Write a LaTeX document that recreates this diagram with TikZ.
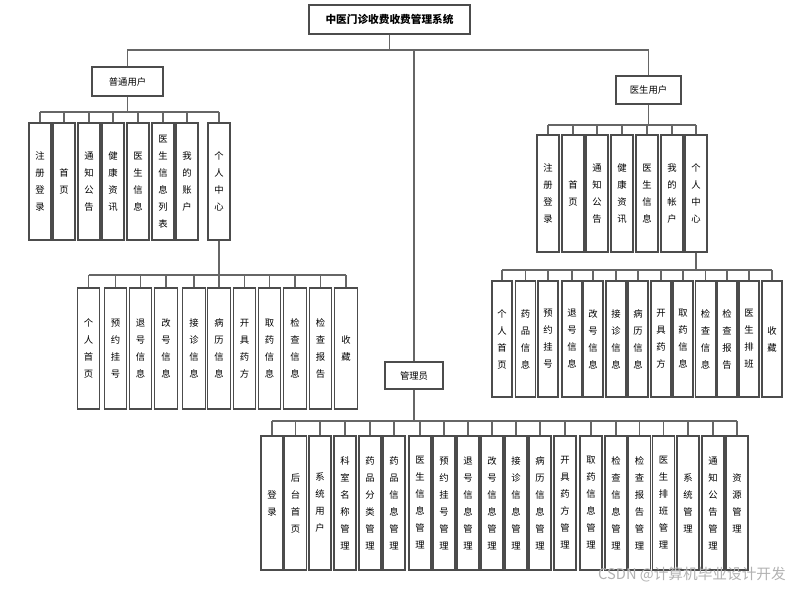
\documentclass[tikz,border=0pt]{standalone}
\usepackage{fontspec}
\setmainfont{Noto Sans CJK SC}

\begin{document}
\begin{tikzpicture}[
  x=0.75pt, y=-0.75pt,
  every node/.style={draw=black!70, line width=0.8pt, align=center,
                     inner sep=0pt, font=\fontsize{7}{12.75}\selectfont},
  link/.style={draw=black!60, line width=0.8pt},
  rootbox/.style={minimum width=120.75pt, minimum height=21.75pt,
                  font=\bfseries\fontsize{8}{10}\selectfont},
  uleaf/.style={minimum width=16.5pt, minimum height=87.75pt},
  ucleaf/.style={minimum width=17pt, minimum height=90.75pt},
  dleaf/.style={minimum width=16.5pt, minimum height=87.75pt},
  dcleaf/.style={minimum width=15pt, minimum height=87pt},
  aleaf/.style={minimum width=16.5pt, minimum height=100.5pt}
]
\useasboundingbox (0,0) rectangle (793,589);

% top
\node[rootbox] (root) at (389.5,19.5) {中医门诊收费收费管理系统};
\node[minimum width=53.25pt, minimum height=21.75pt] (pu) at (127.5,81.5) {普通用户};
\node[minimum width=48.75pt, minimum height=21pt]    (du) at (648.5,90)   {医生用户};
\node[minimum width=43.5pt, minimum height=20.25pt]  (ad) at (414,375.5)  {管理员};

% 普通用户
\node[uleaf] (pu1) at (40,181.5)  {注\\册\\登\\录};
\node[uleaf] (pu2) at (64,181.5)  {首\\页};
\node[uleaf] (pu3) at (89,181.5)  {通\\知\\公\\告};
\node[uleaf] (pu4) at (113,181.5) {健\\康\\资\\讯};
\node[uleaf] (pu5) at (138,181.5) {医\\生\\信\\息};
\node[uleaf] (pu6) at (163,181.5) {医\\生\\信\\息\\列\\表};
\node[uleaf] (pu7) at (187,181.5) {我\\的\\账\\户};
\node[uleaf] (pu8) at (219,181.5) {个\\人\\中\\心};

% 普通用户 - 个人中心
\node[ucleaf] (puc1)  at (88.5,348.5)  {个\\人\\首\\页};
\node[ucleaf] (puc2)  at (115.5,348.5) {预\\约\\挂\\号};
\node[ucleaf] (puc3)  at (140.5,348.5) {退\\号\\信\\息};
\node[ucleaf] (puc4)  at (166,348.5)   {改\\号\\信\\息};
\node[ucleaf] (puc5)  at (194,348.5)   {接\\诊\\信\\息};
\node[ucleaf] (puc6)  at (219,348.5)   {病\\历\\信\\息};
\node[ucleaf] (puc7)  at (244.5,348.5) {开\\具\\药\\方};
\node[ucleaf] (puc8)  at (269.5,348.5) {取\\药\\信\\息};
\node[ucleaf] (puc9)  at (295,348.5)   {检\\查\\信\\息};
\node[ucleaf] (puc10) at (320.5,348.5) {检\\查\\报\\告};
\node[ucleaf] (puc11) at (346,348.5)   {收\\藏};

% 医生用户
\node[dleaf] (du1) at (548,193.5) {注\\册\\登\\录};
\node[dleaf] (du2) at (573,193.5) {首\\页};
\node[dleaf] (du3) at (597,193.5) {通\\知\\公\\告};
\node[dleaf] (du4) at (622,193.5) {健\\康\\资\\讯};
\node[dleaf] (du5) at (647,193.5) {医\\生\\信\\息};
\node[dleaf] (du6) at (672,193.5) {我\\的\\帐\\户};
\node[dleaf] (du7) at (696,193.5) {个\\人\\中\\心};

% 医生用户 - 个人中心
\node[dcleaf] (duc1)  at (502,339)   {个\\人\\首\\页};
\node[dcleaf] (duc2)  at (525.5,339) {药\\品\\信\\息};
\node[dcleaf] (duc3)  at (548,339)   {预\\约\\挂\\号};
\node[dcleaf] (duc4)  at (572,339)   {退\\号\\信\\息};
\node[dcleaf] (duc5)  at (593,339)   {改\\号\\信\\息};
\node[dcleaf] (duc6)  at (616,339)   {接\\诊\\信\\息};
\node[dcleaf] (duc7)  at (638,339)   {病\\历\\信\\息};
\node[dcleaf] (duc8)  at (661,339)   {开\\具\\药\\方};
\node[dcleaf] (duc9)  at (683,339)   {取\\药\\信\\息};
\node[dcleaf] (duc10) at (705.5,339) {检\\查\\信\\息};
\node[dcleaf] (duc11) at (727,339)   {检\\查\\报\\告};
\node[dcleaf] (duc12) at (749,339)   {医\\生\\排\\班};
\node[dcleaf] (duc13) at (772,339)   {收\\藏};

% 管理员
\node[aleaf] (ad1)  at (272,503)   {登\\录};
\node[aleaf] (ad2)  at (295.5,503) {后\\台\\首\\页};
\node[aleaf] (ad3)  at (320,503)   {系\\统\\用\\户};
\node[aleaf] (ad4)  at (345,503)   {科\\室\\名\\称\\管\\理};
\node[aleaf] (ad5)  at (370,503)   {药\\品\\分\\类\\管\\理};
\node[aleaf] (ad6)  at (394,503)   {药\\品\\信\\息\\管\\理};
\node[aleaf] (ad7)  at (420,503)   {医\\生\\信\\息\\管\\理};
\node[aleaf] (ad8)  at (444,503)   {预\\约\\挂\\号\\管\\理};
\node[aleaf] (ad9)  at (468,503)   {退\\号\\信\\息\\管\\理};
\node[aleaf] (ad10) at (492,503)   {改\\号\\信\\息\\管\\理};
\node[aleaf] (ad11) at (516,503)   {接\\诊\\信\\息\\管\\理};
\node[aleaf] (ad12) at (540,503)   {病\\历\\信\\息\\管\\理};
\node[aleaf] (ad13) at (565,503)   {开\\具\\药\\方\\管\\理};
\node[aleaf] (ad14) at (591,503)   {取\\药\\信\\息\\管\\理};
\node[aleaf] (ad15) at (616,503)   {检\\查\\信\\息\\管\\理};
\node[aleaf] (ad16) at (639.5,503) {检\\查\\报\\告\\管\\理};
\node[aleaf] (ad17) at (663.5,503) {医\\生\\排\\班\\管\\理};
\node[aleaf] (ad18) at (688,503)   {系\\统\\管\\理};
\node[aleaf] (ad19) at (713,503)   {通\\知\\公\\告\\管\\理};
\node[aleaf] (ad20) at (737,503)   {资\\源\\管\\理};

% bus levels
\coordinate (mainbus) at (0,50);
\coordinate (pubus)   at (0,112);
\coordinate (pucbus)  at (0,275);
\coordinate (dubus)   at (0,125);
\coordinate (ducbus)  at (0,270);
\coordinate (adbus)   at (0,421);

% connectors
\draw[link] (root.south) -- (root.south |- mainbus);
\draw[link] (pu.north) |- (du.north |- mainbus) -- (du.north);
\draw[link] (ad.north) -- (ad.north |- mainbus);

\draw[link] (pu.south) -- (pu.south |- pubus);
\draw[link] (pu1.north |- pubus) -- (pu8.north |- pubus);
\foreach \i in {1,...,8}
  \draw[link] (pu\i.north) -- (pu\i.north |- pubus);

\draw[link] (pu8.south) -- (pu8.south |- pucbus);
\draw[link] (puc1.north |- pucbus) -- (puc11.north |- pucbus);
\foreach \i in {1,...,11}
  \draw[link] (puc\i.north) -- (puc\i.north |- pucbus);

\draw[link] (du.south) -- (du.south |- dubus);
\draw[link] (du1.north |- dubus) -- (du7.north |- dubus);
\foreach \i in {1,...,7}
  \draw[link] (du\i.north) -- (du\i.north |- dubus);

\draw[link] (du7.south) -- (du7.south |- ducbus);
\draw[link] (duc1.north |- ducbus) -- (duc13.north |- ducbus);
\foreach \i in {1,...,13}
  \draw[link] (duc\i.north) -- (duc\i.north |- ducbus);

\draw[link] (ad.south) -- (ad.south |- adbus);
\draw[link] (ad1.north |- adbus) -- (ad20.north |- adbus);
\foreach \i in {1,...,20}
  \draw[link] (ad\i.north) -- (ad\i.north |- adbus);

% watermark
\node[draw=none, text=black!30, font=\fontsize{11}{13}\selectfont] (wm) at (692,575) {CSDN @计算机毕业设计开发};
\end{tikzpicture}
\end{document}
